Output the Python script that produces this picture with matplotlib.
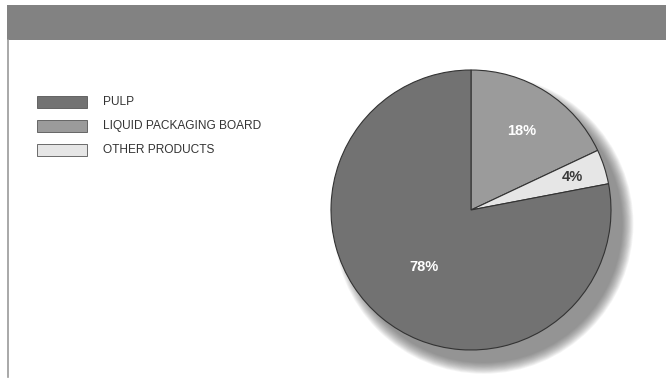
import numpy as np
import matplotlib
matplotlib.use("Agg")
import matplotlib.pyplot as plt
from matplotlib.patches import Rectangle, Circle

# pie order (clockwise from 12 o'clock)
categories = ["LIQUID PACKAGING BOARD", "OTHER PRODUCTS", "PULP"]
shares = [18, 4, 78]
colors = ["#9b9b9b", "#e6e6e6", "#727272"]
label_colors = ["white", "#3a3a3a", "white"]
label_dist = [0.67, 0.76, 0.53]

# legend order
legend_order = ["PULP", "LIQUID PACKAGING BOARD", "OTHER PRODUCTS"]

W, H = 666, 379
fig = plt.figure(figsize=(W / 100, H / 100), dpi=100)
fig.patch.set_facecolor("white")

# header band and left rule
fig.patches.append(Rectangle((7 / W, 1 - 40 / H), 1 - 7 / W, 35 / H,
                             transform=fig.transFigure, facecolor="#828282",
                             edgecolor="none"))
fig.add_artist(plt.Line2D([8 / W, 8 / W], [2 / H, 1 - 40 / H],
                          transform=fig.transFigure, color="#9a9a9a", lw=1.2))

# pie axes: center (471, 210) px, radius 140 px
r_px = 140
cx, cy = 471, 210
half = 1.25 * r_px
ax = fig.add_axes([(cx - half) / W, (H - cy - half) / H, 2 * half / W, 2 * half / H])
ax.set_xlim(-1.25, 1.25)
ax.set_ylim(-1.25, 1.25)
ax.set_aspect("equal")
ax.axis("off")

# soft shadow to the lower right
for i in range(14):
    s = 1.07 - i * 0.006
    ax.add_patch(Circle((0.09, -0.1), s, facecolor="#4a4a4a", alpha=0.06,
                        edgecolor="none", zorder=0))

wedges, _ = ax.pie(shares, colors=colors, startangle=90, counterclock=False,
                   radius=1.0, wedgeprops=dict(edgecolor="#333333", linewidth=0.8))
for w in wedges:
    w.set_zorder(2)

total = sum(shares)
start = 90.0
for val, d, tc in zip(shares, label_dist, label_colors):
    mid = np.deg2rad(start - 360 * val / total / 2)
    start -= 360 * val / total
    ax.text(d * np.cos(mid), d * np.sin(mid), f"{val}%", ha="center", va="center",
            color=tc, fontsize=10.5, fontweight="bold", family="Liberation Sans",
            zorder=3)

# legend
for i, name in enumerate(legend_order):
    y = 102 + i * 24
    c = colors[categories.index(name)]
    fig.patches.append(Rectangle((37 / W, 1 - (y + 6) / H), 50 / W, 12 / H,
                                 transform=fig.transFigure, facecolor=c,
                                 edgecolor="#555555", linewidth=0.6))
    fig.text(103 / W, 1 - y / H, name, ha="left", va="center", fontsize=8.6,
             color="#333333", family="Liberation Sans")

fig.savefig("out.png", dpi=100)
